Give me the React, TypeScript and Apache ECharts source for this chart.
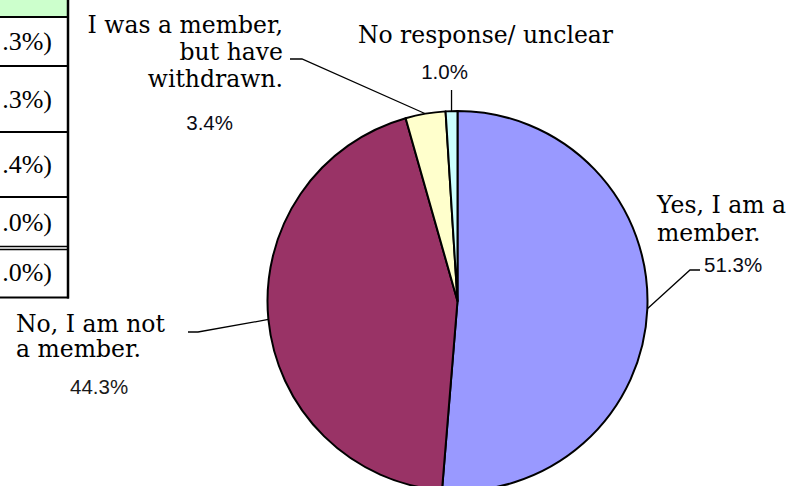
import React, { useEffect, useRef } from "react";
import * as echarts from "echarts";

// ---- data ----
const categories = [
  "Yes, I am a\nmember.",
  "No, I am not\na member.",
  "I was a member,\nbut have\nwithdrawn.",
  "No response/ unclear",
];
const values = [51.3, 44.3, 3.4, 1.0];
const sliceColors = ["#9999FF", "#993366", "#FFFFCC", "#CCFFFF"];
const total = values.reduce((a, b) => a + b, 0);
const tableRowValues = [...values, total];
// the table is cut by the left page edge: only the tail of each cell is visible
const tableCellTexts = tableRowValues.map((v) => `.${v.toFixed(1).split(".")[1]}%)`);

// ---- layout / style (not data) ----
const PIE_CX = 457.5;
const PIE_CY = 301;
const PIE_R = 190;

type Placement = {
  x: number;
  y: number;
  align: "left" | "right" | "center";
  nameLH: number;
  pctLH: number;
  pctPad: number[];
  pctColor: string;
  tail: (s: number[]) => number[][];
};

const labelPlacement: Placement[] = [
  { x: 657, y: 190.4, align: "left", nameLH: 28.5, pctLH: 33.4, pctPad: [0, 0, 0, 47], pctColor: "#0a0a14",
    tail: () => [[690, 270], [700, 270]] },
  { x: 16, y: 311.1, align: "left", nameLH: 25.6, pctLH: 48.8, pctPad: [0, 0, 0, 54], pctColor: "#1a1a1a",
    tail: () => [[198, 332], [188, 332]] },
  { x: 283, y: 11.4, align: "right", nameLH: 27, pctLH: 59.4, pctPad: [0, 50, 0, 0], pctColor: "#0a0a14",
    tail: () => [[302, 59], [290, 59]] },
  { x: 485.5, y: 21.4, align: "center", nameLH: 27, pctLH: 45.4, pctPad: [0, 82, 0, 0], pctColor: "#0a0a14",
    tail: (s) => [[s[0], 100], [s[0], 90]] },
];

// table layout
const TABLE_RIGHT = 68;
const rowBounds = [17, 66, 132, 197, 248, 297.5];

function edgePoint(i: number): number[] {
  let cum = 0;
  for (let k = 0; k < i; k++) cum += values[k];
  const theta = ((cum + values[i] / 2) / total) * Math.PI * 2;
  return [PIE_CX + PIE_R * Math.sin(theta), PIE_CY - PIE_R * Math.cos(theta)];
}

export default function App() {
  const ref = useRef<HTMLDivElement>(null);
  useEffect(() => {
    if (!ref.current) return;
    const chart = echarts.init(ref.current, null, { renderer: "svg" });

    const tableGraphics: any[] = [];
    tableGraphics.push({
      type: "rect",
      shape: { x: 0, y: 0, width: TABLE_RIGHT, height: 16 },
      style: { fill: "#CCFFCC" },
      silent: true,
    });
    const hLines = [17, 66, 132, 197, 246.5, 249.5, 297.5];
    hLines.forEach((y, i) => {
      tableGraphics.push({
        type: "line",
        shape: { x1: 0, y1: y, x2: TABLE_RIGHT + 1, y2: y },
        style: { stroke: "#000", lineWidth: i === 4 || i === 5 ? 1.5 : 2 },
        silent: true,
      });
    });
    tableGraphics.push({
      type: "line",
      shape: { x1: TABLE_RIGHT, y1: 0, x2: TABLE_RIGHT, y2: 298.5 },
      style: { stroke: "#000", lineWidth: 2.5 },
      silent: true,
    });
    tableCellTexts.forEach((t, i) => {
      const top = rowBounds[i];
      const bottom = rowBounds[i + 1];
      tableGraphics.push({
        type: "text",
        x: 52,
        y: (top + bottom) / 2,
        style: {
          text: t,
          font: '26px "Liberation Serif"',
          fill: "#000",
          align: "right",
          verticalAlign: "middle",
          textAlign: "right",
          textVerticalAlign: "middle",
        },
        silent: true,
      });
    });

    const data = categories.map((name, i) => {
      const p = labelPlacement[i];
      return {
        name,
        value: values[i],
        itemStyle: { color: sliceColors[i] },
        label: {
          align: p.align,
          rich: {
            n: {
              fontFamily: "DejaVu Serif",
              fontSize: 23.5,
              lineHeight: p.nameLH,
              color: "#000",
              align: p.align,
            },
            p: {
              fontFamily: "Liberation Sans",
              fontSize: 20.5,
              lineHeight: p.pctLH,
              color: p.pctColor,
              padding: p.pctPad,
              align: p.align,
            },
          },
        },
      };
    });

    chart.setOption({
      animation: false,
      backgroundColor: "#ffffff",
      graphic: tableGraphics,
      series: [
        {
          type: "pie",
          center: [PIE_CX, PIE_CY],
          radius: PIE_R,
          startAngle: 90,
          clockwise: true,
          avoidLabelOverlap: false,
          minShowLabelAngle: 0,
          silent: true,
          itemStyle: { borderColor: "#000", borderWidth: 2 },
          label: {
            show: true,
            position: "outside",
            formatter: (params: any) => {
              const lines = String(params.name)
                .split("\n")
                .map((l: string) => `{n|${l}}`)
                .join("\n");
              return `${lines}\n{p|${Number(params.value).toFixed(1)}%}`;
            },
          },
          labelLine: {
            show: true,
            length: 20,
            length2: 10,
            lineStyle: { color: "#000", width: 1.3 },
          },
          labelLayout: (params: any) => {
            const i = params.dataIndex;
            const p = labelPlacement[i];
            const start = edgePoint(i);
            return {
              x: p.x,
              y: p.y,
              align: p.align,
              verticalAlign: "top",
              hideOverlap: false,
              labelLinePoints: [start, ...p.tail(start)],
            };
          },
          data,
        },
      ],
    });
    return () => chart.dispose();
  }, []);
  return (
    <div
      ref={ref}
      style={{ position: "absolute", left: 0, top: 0, width: 807, height: 486 }}
    />
  );
}
